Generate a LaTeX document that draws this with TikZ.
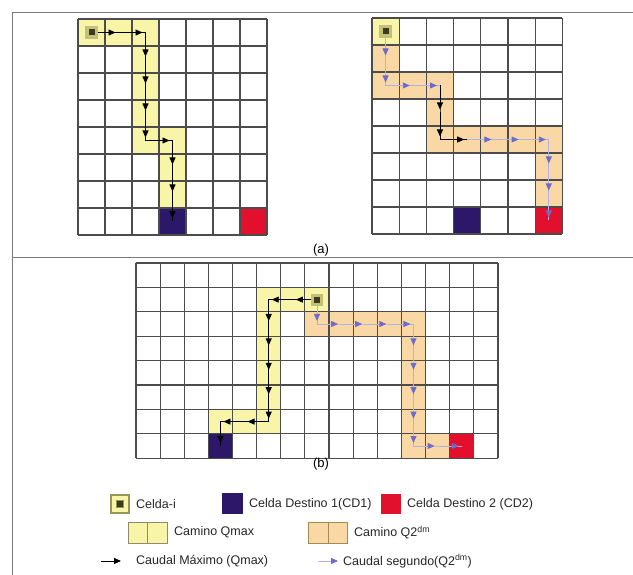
\documentclass[tikz,border=0pt]{standalone}
\usepackage{fontspec}
\setmainfont{Liberation Sans}
\usetikzlibrary{arrows.meta}
\definecolor{gridline}{HTML}{4C4C4C}
\definecolor{frameline}{HTML}{7A7A7A}
\definecolor{qmaxfill}{HTML}{F8F4A8}
\definecolor{qtwofill}{HTML}{F9D8A6}
\definecolor{cdone}{HTML}{2C1769}
\definecolor{cdtwo}{HTML}{E2102C}
\definecolor{qtwotip}{HTML}{6E6CCB}
\definecolor{qtwoline}{HTML}{B2B0E4}
\definecolor{halo}{HTML}{C4C07A}
\definecolor{core}{HTML}{3C3A20}
\definecolor{iconedge}{HTML}{9A9652}
\definecolor{pairedge}{HTML}{8E8C6A}
\tikzset{
  frame/.style={draw=frameline, line width=1pt},
  gridlines/.style={draw=gridline, line width=1.1pt},
  haloc/.style={fill=halo, minimum size=13pt, inner sep=0pt, draw=none},
  corec/.style={fill=core, minimum size=6pt, inner sep=0pt, draw=none},
  qmaxline/.style={draw=black, line width=0.8pt},
  qmaxtip/.style={draw=black, line width=0.8pt, -{Triangle[length=7pt,width=6pt]}, shorten >=3pt},
  qtwolinest/.style={draw=qtwoline, line width=0.9pt},
  qtwotipst/.style={draw=qtwoline, line width=0.9pt, -{Triangle[length=7pt,width=6pt,color=qtwotip]}, shorten >=3pt},
  legsq/.style={minimum size=20pt, inner sep=0pt, draw=none},
  legpair/.style={minimum width=19.5pt, minimum height=21pt, inner sep=0pt, draw=pairedge, line width=0.8pt},
  legtext/.style={anchor=west, inner sep=0pt, text=black!85},
  sublabel/.style={inner sep=0pt, font=\fontsize{13}{15}\selectfont},
}
\begin{document}
\begin{tikzpicture}[x=1pt, y=-1pt, font=\fontsize{12.5}{14}\selectfont]
\useasboundingbox (0,0) rectangle (633,575);
% frame
\coordinate (fTL) at (12,13);
\coordinate (fTR) at (633,13);
\coordinate (fBL) at (12,575);
\coordinate (fML) at (12,258);
\coordinate (fMR) at (633,258);
\draw[frame] (fTR) -- (fTL) -- (fBL);
\draw[frame] (fML) -- (fMR);

% ---------- grid (a) left ----------
\begin{scope}[shift={(78,19)}, x=27pt, y=-27pt]
  \foreach \c/\r in {0/0,1/0,2/0,2/1,2/2,2/3,2/4,3/4,3/5,3/6}
    \fill[qmaxfill] (\c,\r) rectangle ++(1,1);
  \fill[cdone] (3,7) rectangle ++(1,1);
  \fill[cdtwo] (6,7) rectangle ++(1,1);
  \foreach \i in {0,...,7} \draw[gridlines] (\i,0) -- (\i,8);
  \foreach \j in {0,...,8} \draw[gridlines] (0,\j) -- (7,\j);
  \foreach \c in {0,...,6} \foreach \r in {0,...,7}
    \coordinate (L-\c-\r) at (\c+.5,\r+.5);
\end{scope}
\draw[qmaxline] (L-0-0) -- (L-1-0) -- (L-2-0) -- (L-2-1) -- (L-2-2) -- (L-2-3) -- (L-2-4) -- (L-3-4) -- (L-3-5) -- (L-3-6) -- (L-3-7);
\foreach \a/\b in {0-0/1-0,1-0/2-0,2-0/2-1,2-1/2-2,2-2/2-3,2-3/2-4,2-4/3-4,3-4/3-5,3-5/3-6,3-6/3-7}
  \draw[qmaxtip] (L-\a) -- (L-\b);
\node[haloc] (Lhalo) at (L-0-0) {};
\node[corec] (Lcore) at (L-0-0) {};

% ---------- grid (a) right ----------
\begin{scope}[shift={(372,18)}, x=27.2pt, y=-27pt]
  \foreach \c/\r in {0/1,0/2,1/2,2/2,2/3,2/4,3/4,4/4,5/4,6/4,6/5,6/6}
    \fill[qtwofill] (\c,\r) rectangle ++(1,1);
  \fill[qmaxfill] (0,0) rectangle ++(1,1);
  \fill[cdone] (3,7) rectangle ++(1,1);
  \fill[cdtwo] (6,7) rectangle ++(1,1);
  \foreach \i in {0,...,7} \draw[gridlines] (\i,0) -- (\i,8);
  \foreach \j in {0,...,8} \draw[gridlines] (0,\j) -- (7,\j);
  \foreach \c in {0,...,6} \foreach \r in {0,...,7}
    \coordinate (R-\c-\r) at (\c+.5,\r+.5);
\end{scope}
\draw[qtwolinest] (R-0-0) -- (R-0-1) -- (R-0-2) -- (R-1-2) -- (R-2-2);
\draw[qmaxline] (R-2-2) -- (R-2-3) -- (R-2-4) -- (R-3-4);
\draw[qtwolinest] (R-3-4) -- (R-4-4) -- (R-5-4) -- (R-6-4) -- (R-6-5) -- (R-6-6) -- (R-6-7);
\foreach \a/\b in {0-0/0-1,0-1/0-2,0-2/1-2,1-2/2-2,3-4/4-4,4-4/5-4,5-4/6-4,6-4/6-5,6-5/6-6,6-6/6-7}
  \draw[qtwotipst] (R-\a) -- (R-\b);
\foreach \a/\b in {2-2/2-3,2-3/2-4,2-4/3-4}
  \draw[qmaxtip] (R-\a) -- (R-\b);
\node[haloc] (Rhalo) at (R-0-0) {};
\node[corec] (Rcore) at (R-0-0) {};

\node[sublabel] (labA) at (321,250) {(a)};

% ---------- grid (b) ----------
\begin{scope}[shift={(136,263)}, x=24.13pt, y=-24.4pt]
  \foreach \c/\r in {5/1,6/1,7/1,5/2,5/3,5/4,5/5,3/6,4/6,5/6}
    \fill[qmaxfill] (\c,\r) rectangle ++(1,1);
  \foreach \c/\r in {7/2,8/2,9/2,10/2,11/2,11/3,11/4,11/5,11/6,11/7,12/7}
    \fill[qtwofill] (\c,\r) rectangle ++(1,1);
  \fill[cdone] (3,7) rectangle ++(1,1);
  \fill[cdtwo] (13,7) rectangle ++(1,1);
  \foreach \i in {0,...,15} \draw[gridlines] (\i,0) -- (\i,8);
  \foreach \j in {0,...,8} \draw[gridlines] (0,\j) -- (15,\j);
  \foreach \c in {0,...,14} \foreach \r in {0,...,7}
    \coordinate (B-\c-\r) at (\c+.5,\r+.5);
\end{scope}
\draw[qmaxline] (B-7-1) -- (B-6-1) -- (B-5-1) -- (B-5-2) -- (B-5-3) -- (B-5-4) -- (B-5-5) -- (B-5-6) -- (B-4-6) -- (B-3-6) -- (B-3-7);
\foreach \a/\b in {7-1/6-1,6-1/5-1,5-1/5-2,5-2/5-3,5-3/5-4,5-4/5-5,5-5/5-6,5-6/4-6,4-6/3-6,3-6/3-7}
  \draw[qmaxtip] (B-\a) -- (B-\b);
\draw[qtwolinest] (B-7-1) -- (B-7-2) -- (B-8-2) -- (B-9-2) -- (B-10-2) -- (B-11-2) -- (B-11-3) -- (B-11-4) -- (B-11-5) -- (B-11-6) -- (B-11-7) -- (B-12-7) -- (B-13-7);
\foreach \a/\b in {7-1/7-2,7-2/8-2,8-2/9-2,9-2/10-2,10-2/11-2,11-2/11-3,11-3/11-4,11-4/11-5,11-5/11-6,11-6/11-7,11-7/12-7,12-7/13-7}
  \draw[qtwotipst] (B-\a) -- (B-\b);
\node[haloc, minimum size=12pt] (Bhalo) at (B-7-1) {};
\node[corec] (Bcore) at (B-7-1) {};

\node[sublabel] (labB) at (321,464) {(b)};

% ---------- legend ----------
\node[legsq, fill=qmaxfill, draw=iconedge, line width=1.2pt, minimum size=18pt] (lgCi) at (120,504) {};
\node[corec, minimum size=7pt, draw=iconedge, line width=1pt] (lgCiCore) at (lgCi) {};
\node[legtext] (lgCiT) at (136,504) {Celda-i};
\node[legsq, fill=cdone, minimum size=21pt] (lgCD1) at (232.5,503.5) {};
\node[legtext] (lgCD1T) at (249,504) {Celda Destino 1(CD1)};
\node[legsq, fill=cdtwo] (lgCD2) at (391,503.5) {};
\node[legtext] (lgCD2T) at (407,504) {Celda Destino 2 (CD2)};

\node[legpair, fill=qmaxfill] (lgQa) at (137.75,532.5) {};
\node[legpair, fill=qmaxfill] (lgQb) at (157.25,532.5) {};
\node[legtext] (lgQT) at (174,532.5) {Camino Qmax};
\node[legpair, fill=qtwofill, draw=pairedge!80!orange] (lgOa) at (318.5,532.5) {};
\node[legpair, fill=qtwofill, draw=pairedge!80!orange] (lgOb) at (338,532.5) {};
\node[legtext] (lgOT) at (354,532.5) {Camino Q2\textsuperscript{dm}};

\coordinate (lgAs) at (101,561);
\coordinate (lgAe) at (121,561);
\draw[qmaxline, -{Triangle[length=7pt,width=6pt]}] (lgAs) -- (lgAe);
\node[legtext] (lgAT) at (136,561) {Caudal Máximo (Qmax)};
\coordinate (lgBs) at (318,561);
\coordinate (lgBe) at (338,561);
\draw[qtwolinest, -{Triangle[length=7pt,width=6pt,color=qtwotip]}] (lgBs) -- (lgBe);
\node[legtext] (lgBT) at (343,561) {Caudal segundo(Q2\textsuperscript{dm})};
\end{tikzpicture}
\end{document}
